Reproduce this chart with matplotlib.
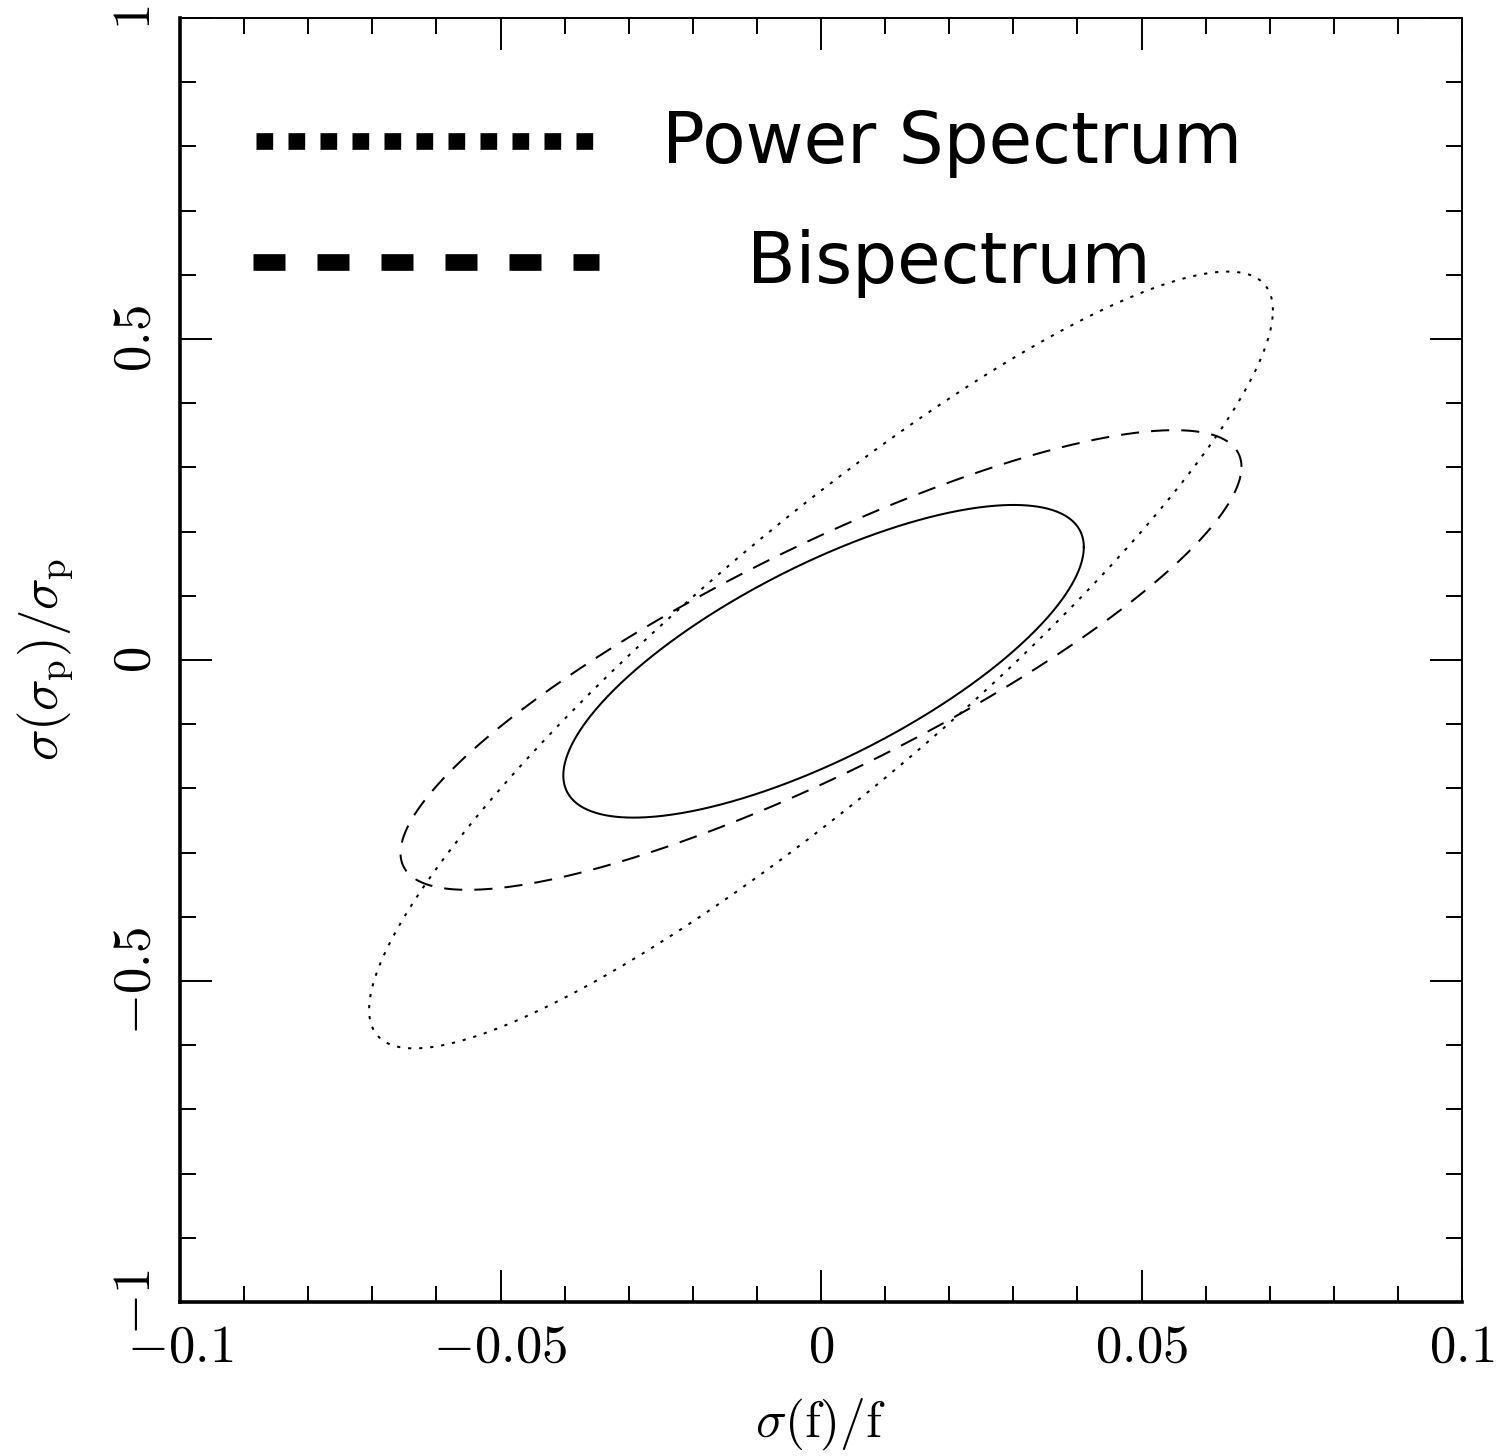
import numpy as np
import matplotlib
matplotlib.use("Agg")
import matplotlib.pyplot as plt
from matplotlib.ticker import MultipleLocator

# ---- data (1-sigma error ellipses: sigma(f)/f, sigma(sigma_p)/sigma_p, correlation) ----
ellipse_names = ["Power Spectrum", "Bispectrum", "Combined"]
sigma_f = [0.0705, 0.0656, 0.0406]
sigma_sp = [0.605, 0.358, 0.2435]
rho = [0.90, 0.84, 0.73]
center_f = [0.0, 0.0, 0.0004]
center_sp = [0.0, 0.0, -0.002]

xticks = [-0.1, -0.05, 0.0, 0.05, 0.1]
xtick_labels = [r"$-0.1$", r"$-0.05$", r"$0$", r"$0.05$", r"$0.1$"]
yticks = [-1.0, -0.5, 0.0, 0.5, 1.0]
ytick_labels = [r"$-1$", r"$-0.5$", r"$0$", r"$0.5$", r"$1$"]

legend_labels = ["Power Spectrum", "Bispectrum"]

plt.rcParams["mathtext.fontset"] = "cm"
plt.rcParams["font.family"] = ["DejaVu Serif"]

fig = plt.figure(figsize=(15.03, 14.56), dpi=100)
ax = fig.add_axes([180 / 1503, 1 - 1302 / 1456, 1282 / 1503, 1284 / 1456])

lw = 1.45
styles = [
    dict(linestyle=(0, (1.6, 3.9)), dash_capstyle="butt"),
    dict(linestyle=(0, (9.0, 6.0)), dash_capstyle="butt"),
    dict(linestyle="-"),
]

t = np.linspace(0, 2 * np.pi, 721)
for sf, ss, r, cx, cy, st in zip(sigma_f, sigma_sp, rho, center_f, center_sp, styles):
    x = cx + sf * np.cos(t)
    y = cy + ss * (r * np.cos(t) + np.sqrt(1 - r * r) * np.sin(t))
    ax.plot(x, y, color="black", lw=lw, **st)

# legend drawn manually
ax.plot([-0.08813, -0.03563], [0.8078, 0.8078], color="black", lw=12,
        linestyle=(0, (1.0, 0.92)), dash_capstyle="butt", solid_capstyle="butt")
ax.plot([-0.0886, -0.0347], [0.6203, 0.6203], color="black", lw=12,
        linestyle=(0, (1.92, 1.92)), dash_capstyle="butt", solid_capstyle="butt")
ax.text(0.0205, 0.805, legend_labels[0], fontsize=51, family=["DejaVu Sans"],
        ha="center", va="center")
ax.text(0.0200, 0.617, legend_labels[1], fontsize=51, family=["DejaVu Sans"],
        ha="center", va="center")

ax.set_xlim(-0.1, 0.1)
ax.set_ylim(-1, 1)
ax.set_xticks(xticks)
ax.set_xticklabels(xtick_labels, fontsize=38)
ax.set_yticks(yticks)
ax.set_yticklabels(ytick_labels, fontsize=38, rotation=90, va="center")
ax.xaxis.set_minor_locator(MultipleLocator(0.01))
ax.yaxis.set_minor_locator(MultipleLocator(0.1))
ax.tick_params(which="both", direction="in", top=True, right=True, width=1.4)
ax.tick_params(which="major", length=23, pad=14)
ax.tick_params(which="minor", length=11.5)
ax.tick_params(axis="y", which="major", pad=14)

for s in ["left", "bottom"]:
    ax.spines[s].set_linewidth(2.6)
for s in ["top", "right"]:
    ax.spines[s].set_linewidth(1.4)

ax.set_xlabel(r"$\sigma(\mathrm{f})/\mathrm{f}$", fontsize=37, labelpad=17)
ax.set_ylabel(r"$\sigma(\sigma_{\mathrm{p}})/\sigma_{\mathrm{p}}$", fontsize=38, labelpad=24)

fig.savefig("out.png", dpi=100)
